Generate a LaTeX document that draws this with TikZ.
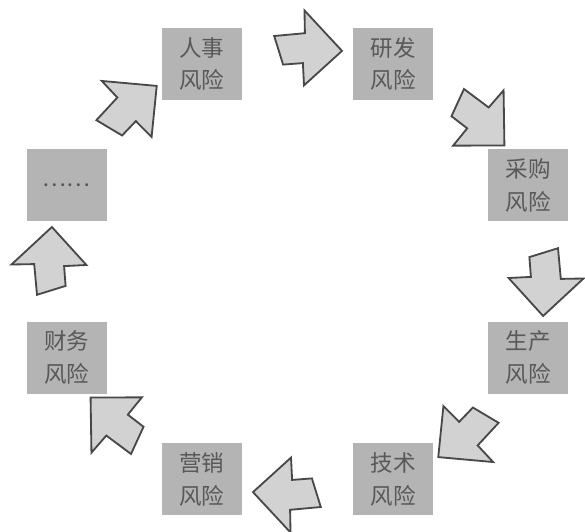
\documentclass[tikz,border=0pt]{standalone}
\usepackage{fontspec}
\newfontfamily\cjk{Noto Sans CJK SC}
\definecolor{boxgray}{RGB}{180,180,180}
\definecolor{arrowgray}{RGB}{210,210,210}
\definecolor{edgegray}{RGB}{72,72,72}
\definecolor{txtgray}{RGB}{88,88,88}
\tikzset{
  riskbox/.style={fill=boxgray,text=txtgray,minimum width=2cm,minimum height=1.8cm,
    inner sep=0pt,align=center,font=\cjk\fontsize{16}{23}\selectfont},
  cyclearrow/.pic={
    \draw[fill=arrowgray,draw=edgegray,line width=1.3pt]
      (44.5,-4.4) -- (7,36) -- (7.4,13.3) -- (-23.3,10.5) -- (-14.4,-18.1)
      -- (5.4,-16.6) -- (6.5,-38.9) -- cycle;
  }
}

\begin{document}
\begin{tikzpicture}[x=0.025cm,y=0.025cm]
\useasboundingbox (0,0) rectangle (585,-532);
% risk boxes on an ellipse round (297.5,-271.5)
\foreach \nm/\ang/\txt in {cg/22.5/采购\\风险, yf/67.5/研发\\风险, rs/112.5/人事\\风险,
    qt/157.5/……, cw/202.5/财务\\风险, yx/247.5/营销\\风险, js/292.5/技术\\风险, sc/337.5/生产\\风险}
  \node[riskbox] (\nm) at ({297.5+250*cos(\ang)},{-271.5+225*sin(\ang)}) {\txt};
% block arrows, clockwise
\foreach \ang in {0,45,...,315}
  \pic[rotate={atan2(-225*cos(\ang),250*sin(\ang))}] at ({297.5+250*cos(\ang)},{-271.5+225*sin(\ang)}) {cyclearrow};
\end{tikzpicture}
\end{document}
